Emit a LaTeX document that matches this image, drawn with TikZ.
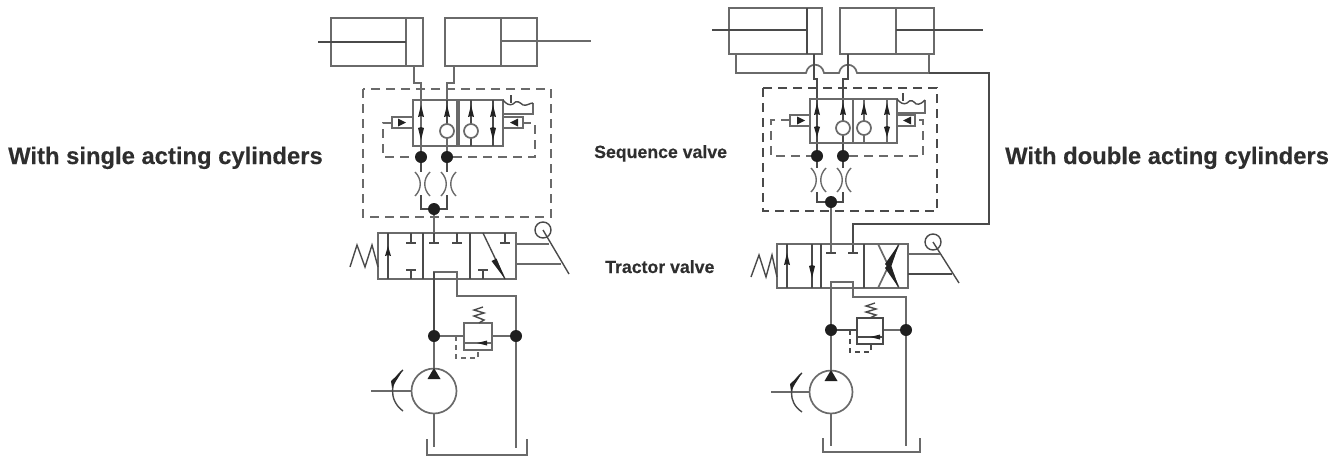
\documentclass[tikz,border=0pt]{standalone}
\usepackage{fontspec}
\setmainfont[BoldFeatures={FakeBold=0.35}]{Liberation Sans}
\definecolor{ln}{HTML}{4A4A4A}
\definecolor{lg}{HTML}{6A6A6A}
\definecolor{hd}{HTML}{222222}
\newcommand{\headup}[3]{\fill[hd] (#1,#2)--(#1+3,#3)--(#1,#3-1)--(#1-3,#3)--cycle;}
\newcommand{\restr}[3]{\draw[pipe,lg] (#1-3,#3-12) .. controls (#1+4,#3-5) and (#1+4,#3+5) .. (#1-3,#3+12);
 \draw[pipe,lg] (#2+3,#3-12) .. controls (#2-4,#3-5) and (#2-4,#3+5) .. (#2+3,#3+12);}
\newcommand{\tee}[3]{\draw[pipe] (#1,#2)--(#1,#3) (#1-5,#3)--(#1+5,#3);}
\tikzset{
 pipe/.style={draw=ln,line width=1.4pt,line join=miter},
 thin pipe/.style={draw=lg,line width=1.7pt},
 dashline/.style={draw=lg,line width=1.5pt,dash pattern=on 9pt off 6pt},
 jdot/.style={circle,fill=black!88,inner sep=0pt,minimum size=12pt},
 tag/.style={text=black!82,inner sep=0pt,anchor=base west},
}
\begin{document}
\begin{tikzpicture}[x=1pt,y=-1pt]
\useasboundingbox (0,0) rectangle (1343,461);
% ---------- labels
\node[tag,font=\fontsize{23.8}{26}\bfseries] (lblA) at (8,164) {With single acting cylinders};
\node[tag,font=\fontsize{23.8}{26}\bfseries] (lblB) at (1005,164) {With double acting cylinders};
\node[tag,font=\fontsize{17.7}{20}\bfseries] (lblS) at (594,158) {Sequence valve};
\node[tag,font=\fontsize{17.7}{20}\bfseries] (lblT) at (605,273) {Tractor valve};
% ========== LEFT CIRCUIT
\node[jdot] (La) at (421,157) {};
\node[jdot] (Lb) at (447,157) {};
\node[jdot] (Lc) at (434,209) {};
\node[jdot] (Ld) at (434,336) {};
\node[jdot] (Le) at (516,336) {};
\coordinate (Lp) at (434,391);
% cylinders
\draw[thin pipe] (331,18) rectangle (423,66) (406,18)--(406,66);
\draw[pipe] (318,42)--(406,42);
\draw[thin pipe] (445,18) rectangle (537,66) (501,18)--(501,66);
\draw[thin pipe] (501,41)--(591,41);
% lines to sequence valve
\draw[thin pipe] (414,66)--(414,83)--(421,83)--(La);
\draw[thin pipe] (454,66)--(454,83)--(447,83)--(Lb);
% dashed boxes
\draw[dashline] (363,89) rectangle (551,217);
\draw[dashline] (392,123)--(383,123)--(383,157)--(La);
\draw[dashline] (Lb)--(535,157)--(535,123)--(523,123);
% sequence valve
\draw[thin pipe] (413,100) rectangle (503,146);
\draw[thin pipe] (457,100)--(457,146) (459,100)--(459,146);
\draw[pipe] (471,100)--(471,124) (471,138)--(471,146) (493,100)--(493,146) (447,124)--(447,100);
\draw[thin pipe,fill=white] (447,131) circle[radius=7pt];
\draw[thin pipe,fill=white] (471,131) circle[radius=7pt];
\headup{421}{105}{117}\headup{447}{105}{117}\headup{471}{105}{117}\headup{493}{105}{117}
\headup{421}{140}{128}\headup{493}{140}{128}
% pilot ends
\draw[thin pipe] (413,117)--(392,117)--(392,128)--(413,128);
\fill[hd] (406,122.5)--(398,118.5)--(398,126.5)--cycle;
\draw[thin pipe] (503,117)--(523,117)--(523,128)--(503,128);
\fill[hd] (510,122.5)--(518,118.5)--(518,126.5)--cycle;
% detent lever
\draw[thin pipe] (503,114)--(533,114)--(533,103);
\draw[pipe] (503,100) .. controls (506,104) and (510,106) .. (513,104) .. controls (517,99) and (520,103) .. (523,105) .. controls (527,106) and (530,103) .. (533,103);
\draw[pipe] (511,95)--(511,103);
% restrictors
\draw[pipe] (La)--(421,172) (447,172)--(Lb);
\draw[pipe] (421,195)--(421,209)--(Lc)--(447,209)--(447,195);
\restr{418}{427}{184}
\restr{444}{453}{184}
% tractor valve
\draw[thin pipe] (Lc)--(434,233);
\draw[thin pipe] (378,233) rectangle (516,279);
\draw[pipe] (423,233)--(423,279) (470,233)--(470,279) (388,233)--(388,279);
\headup{388}{246}{256}
\tee{411}{233}{243}\tee{411}{279}{270}
\tee{434}{233}{243}\tee{457}{233}{243}
\tee{505}{233}{243}\tee{483}{279}{270}
\draw[pipe] (483,233)--(505,279);
\fill[hd] (505,279)--(491.5,261)--(496.5,258.5)--cycle;
\draw[thin pipe] (Ld)--(434,272)--(457,272)--(457,296)--(516,296)--(Le);
\draw[pipe] (434,272)--(Ld);
% spring + lever
\draw[pipe] (350,267)--(357,245)--(365,267)--(372,245)--(378,267);
\draw[pipe] (543,230) circle[radius=8pt];
\draw[pipe] (543,230)--(569,274);
\draw[thin pipe] (516,244)--(549,244) (516,264)--(561,264);
% relief valve
\draw[thin pipe] (Ld)--(464,336) (492,336)--(Le);
\draw[thin pipe] (464,323) rectangle (492,350);
\draw[thin pipe] (464,343)--(492,343);
\fill[hd] (477,343)--(487,340.5)--(487,345.5)--cycle;
\draw[pipe] (479,323)--(484,320)--(474,316)--(484,313)--(474,310)--(483,307);
\draw[dashline,dash pattern=on 5pt off 4pt] (456,336)--(456,358)--(478,358)--(478,350);
% pump
\draw[thin pipe] (Ld)--(434,368);
\draw[thin pipe] (Lp) circle[radius=22.5pt];
\fill[black!88] (434,368)--(440.5,379)--(427.5,379)--cycle;
\draw[thin pipe] (434,413.5)--(434,447);
\draw[thin pipe] (371,391)--(411.5,391);
\draw[pipe] (403,370) .. controls (390,380) and (388,400) .. (403,411);
\fill[hd] (403,370)--(391,381)--(392,388)--(396,381)--cycle;
% tank
\draw[thin pipe] (Le)--(516,448);
\draw[thin pipe] (427,439)--(427,455)--(527,455)--(527,439);
% ========== RIGHT CIRCUIT
\node[jdot] (Ra) at (817,156) {};
\node[jdot] (Rb) at (843,156) {};
\node[jdot] (Rc) at (831,202) {};
\node[jdot] (Rd) at (831,330) {};
\node[jdot] (Re) at (906,330) {};
\coordinate (Rp) at (831,392);
% cylinders
\draw[thin pipe] (729,8) rectangle (822,54);
\draw[pipe] (807,8)--(807,54) (712,30)--(807,30);
\draw[thin pipe] (840,8) rectangle (934,54) (896,8)--(896,54);
\draw[pipe] (896,30)--(983,30);
% annulus lines with humps
\draw[thin pipe] (736,54)--(736,73)--(806,73) .. controls (808,62) and (822,62) .. (824,73) -- (839,73) .. controls (841,62) and (855,62) .. (857,73) -- (929,73)--(929,54);
\draw[pipe] (929,73)--(989,73)--(989,224)--(853,224)--(853,253);
\draw[pipe] (848,253)--(858,253);
% pressure lines
\draw[pipe] (814,54)--(814,79)--(817,79)--(Ra);
\draw[pipe] (848,54)--(848,79)--(843,79)--(Rb);
% dashed boxes
\draw[dashline,draw=ln] (763,88) rectangle (937,211);
\draw[dashline] (790,120)--(771,120)--(771,156)--(Ra);
\draw[dashline] (Rb)--(923,156)--(923,120)--(915,120);
% sequence valve
\draw[thin pipe] (810,99) rectangle (897,143);
\draw[thin pipe] (853,99)--(853,143);
\draw[thin pipe] (864,99)--(864,121) (864,135)--(864,143) (887,99)--(887,143);
\draw[thin pipe,fill=white] (843,128) circle[radius=7pt];
\draw[thin pipe,fill=white] (864,128) circle[radius=7pt];
\headup{817}{103}{115}\headup{843}{103}{115}\headup{864}{103}{115}\headup{887}{103}{115}
\headup{817}{137}{127}\headup{887}{137}{127}
% pilot ends
\draw[thin pipe] (810,115)--(790,115)--(790,126)--(810,126);
\fill[hd] (805,120.5)--(797,116.5)--(797,124.5)--cycle;
\draw[thin pipe] (897,115)--(915,115)--(915,126)--(897,126);
\fill[hd] (903,120.5)--(911,116.5)--(911,124.5)--cycle;
\draw[thin pipe] (897,113)--(925,113)--(925,100);
\draw[pipe] (897,99) .. controls (900,103) and (904,105) .. (907,103) .. controls (911,98) and (914,102) .. (916,104) .. controls (920,105) and (923,102) .. (925,100);
\draw[pipe] (903,93)--(903,101);
% restrictors
\draw[pipe] (Ra)--(817,168) (843,168)--(Rb);
\draw[pipe] (817,192)--(817,202)--(Rc)--(843,202)--(843,192);
\restr{814}{823}{180}
\restr{840}{848}{180}
% tractor valve
\draw[thin pipe] (Rc)--(831,253);
\draw[pipe] (826,253)--(836,253);
\draw[thin pipe] (777,244) rectangle (908,288);
\draw[pipe] (787,244)--(787,288) (812,244)--(812,288) (821,244)--(821,288) (864,244)--(864,288);
\headup{787}{253}{265}
\headup{812}{278}{266}
\draw[thin pipe] (878,244)--(899,288) (878,288)--(899,244);
\fill[hd] (899,244)--(890,270)--(885,264)--cycle;
\fill[hd] (899,288)--(885,268)--(890,262)--cycle;
\draw[thin pipe] (Rd)--(831,282)--(853,282)--(853,297)--(906,297)--(Re);
% spring + lever
\draw[pipe] (751,277)--(759,255)--(766,277)--(772,255)--(777,277);
\draw[pipe] (933,242) circle[radius=8pt];
\draw[pipe] (933,242)--(959,283);
\draw[thin pipe] (908,254)--(940,254);
\draw[pipe] (908,274)--(952,274);
% relief valve
\draw[pipe] (Rd)--(857,330);
\draw[thin pipe] (883,330)--(Re);
\draw[pipe] (857,318) rectangle (883,344) (857,337)--(883,337);
\fill[hd] (870,337)--(880,334.5)--(880,339.5)--cycle;
\draw[pipe] (870,318)--(876,315)--(866,312)--(876,309)--(866,306)--(875,303);
\draw[dashline,draw=ln,dash pattern=on 5pt off 4pt] (850,330)--(850,352)--(871,352)--(871,344);
% pump
\draw[thin pipe] (Rd)--(831,370);
\draw[thin pipe] (Rp) circle[radius=21.5pt];
\fill[black!88] (831,370)--(837.5,381)--(824.5,381)--cycle;
\draw[thin pipe] (831,413.5)--(831,446);
\draw[thin pipe] (771,392)--(809.5,392);
\draw[pipe] (802,373) .. controls (789,383) and (787,402) .. (802,412);
\fill[hd] (802,373)--(790,384)--(791,391)--(795,384)--cycle;
% tank
\draw[thin pipe] (Re)--(906,446);
\draw[thin pipe] (823,438)--(823,452)--(920,452)--(920,438);
\end{tikzpicture}
\end{document}
